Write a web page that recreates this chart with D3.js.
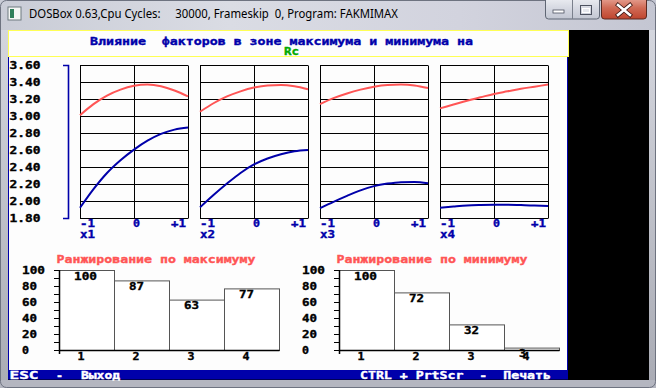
<!DOCTYPE html>
<html>
<head>
<meta charset="utf-8">
<script src="https://cdn.jsdelivr.net/npm/d3@7"></script>
<style>
  body { margin: 0; background: #fff; overflow: hidden; }
  svg { display: block; }
  text { white-space: pre; }
  .dos { font-family: "DejaVu Sans Mono", monospace; font-weight: bold; font-size: 10px; stroke-width: 0.35px; }
</style>
</head>
<body>
<svg id="chart" width="656" height="388"></svg>
<script>
// factor curves: response at x = -1 .. +1 for each factor
const factors = ['x1', 'x2', 'x3', 'x4'];
const xLevels = [-1, -0.75, -0.5, -0.25, 0, 0.25, 0.5, 0.75, 1];
const maxCurves = [
    [3.01, 3.14, 3.24, 3.31, 3.355, 3.37, 3.35, 3.30, 3.23],
    [3.05, 3.15, 3.23, 3.29, 3.335, 3.36, 3.365, 3.35, 3.315],
    [3.14, 3.21, 3.265, 3.31, 3.345, 3.365, 3.37, 3.36, 3.33],
    [3.09, 3.135, 3.18, 3.22, 3.26, 3.29, 3.32, 3.345, 3.37]
];
const minCurves = [
    [1.92, 2.14, 2.33, 2.48, 2.605, 2.71, 2.79, 2.84, 2.865],
    [1.925, 2.07, 2.205, 2.33, 2.43, 2.50, 2.55, 2.585, 2.60],
    [1.915, 1.99, 2.06, 2.125, 2.175, 2.205, 2.222, 2.225, 2.21],
    [1.92, 1.935, 1.948, 1.953, 1.955, 1.955, 1.952, 1.946, 1.94]
];
const yTicks = [1.8, 2.0, 2.2, 2.4, 2.6, 2.8, 3.0, 3.2, 3.4, 3.6];
const xTickLabels = ['-1', '0', '+1'];

// ranking bars
const rankCats = [1, 2, 3, 4];
const rankMax = [100, 87, 63, 77];
const rankMin = [100, 72, 32, 3];
const rankTicks = [0, 10, 20, 30, 40, 50, 60, 70, 80, 90, 100];
const rankLabels = [0, 20, 40, 60, 80, 100];

const titleText = 'Влияние  факторов в зоне максимума и минимума на';
const titleSub = 'Rc';
const rankMaxTitle = 'Ранжирование по максимуму';
const rankMinTitle = 'Ранжирование по минимуму';
const windowTitle = 'DOSBox 0.63,Cpu Cycles:     30000, Frameskip  0, Program: FAKMIMAX';

const DOS_BLUE = '#0000aa', DOS_RED = '#ff5555', DOS_GREEN = '#00aa00', DOS_YELLOW = '#ffff55';

const svg = d3.select('#chart');

// ---- window chrome ----
const defs = svg.append('defs');
const frameGrad = defs.append('linearGradient').attr('id', 'frame').attr('x1', 0).attr('x2', 1);
frameGrad.append('stop').attr('offset', 0).attr('stop-color', '#c9ccd6');
frameGrad.append('stop').attr('offset', 0.35).attr('stop-color', '#dadce4');
frameGrad.append('stop').attr('offset', 0.7).attr('stop-color', '#d2d3de');
frameGrad.append('stop').attr('offset', 1).attr('stop-color', '#c4c6d2');
const sideGrad = defs.append('linearGradient').attr('id', 'side').attr('x1', 0).attr('x2', 0).attr('y1', 0).attr('y2', 1);
sideGrad.append('stop').attr('offset', 0).attr('stop-color', '#d4d6de');
sideGrad.append('stop').attr('offset', 1).attr('stop-color', '#a9abb4');
const btnGrad = defs.append('linearGradient').attr('id', 'btn').attr('x1', 0).attr('x2', 0).attr('y1', 0).attr('y2', 1);
btnGrad.append('stop').attr('offset', 0).attr('stop-color', '#eef0f4');
btnGrad.append('stop').attr('offset', 0.5).attr('stop-color', '#d6d9e2');
btnGrad.append('stop').attr('offset', 1).attr('stop-color', '#c2c6d2');
const closeGrad = defs.append('linearGradient').attr('id', 'close').attr('x1', 0).attr('x2', 0).attr('y1', 0).attr('y2', 1);
closeGrad.append('stop').attr('offset', 0).attr('stop-color', '#e9a99b');
closeGrad.append('stop').attr('offset', 0.5).attr('stop-color', '#d06a55');
closeGrad.append('stop').attr('offset', 1).attr('stop-color', '#c0452e');

svg.append('rect').attr('width', 656).attr('height', 388).attr('fill', 'url(#frame)');
svg.append('rect').attr('x', 0).attr('y', 30).attr('width', 8).attr('height', 358).attr('fill', 'url(#side)');
svg.append('rect').attr('x', 649).attr('y', 30).attr('width', 7).attr('height', 358).attr('fill', 'url(#side)');
svg.append('rect').attr('x', 0).attr('y', 380).attr('width', 656).attr('height', 8).attr('fill', '#b4b6c0');
svg.append('rect').attr('x', 0.5).attr('y', 0.5).attr('width', 655).attr('height', 387).attr('rx', 6)
    .attr('fill', 'none').attr('stroke', '#6e7380');

// icon
svg.append('rect').attr('x', 8).attr('y', 7).attr('width', 13).attr('height', 13).attr('fill', '#f4f6f4').attr('stroke', '#6f7a80');
svg.append('rect').attr('x', 10).attr('y', 9).attr('width', 4).attr('height', 9).attr('fill', '#2f7f5a');

svg.append('text').attr('x', 29).attr('y', 18)
    .attr('font-family', '"Noto Sans", "Open Sans", sans-serif').attr('font-size', 12)
    .attr('textLength', 369).attr('lengthAdjust', 'spacingAndGlyphs')
    .attr('fill', '#000').text(windowTitle);

// caption buttons
svg.append('rect').attr('x', 545.5).attr('y', -3).attr('width', 54).attr('height', 22).attr('rx', 3)
    .attr('fill', 'url(#btn)').attr('stroke', '#5f6674');
svg.append('line').attr('x1', 572.5).attr('x2', 572.5).attr('y1', 0).attr('y2', 19).attr('stroke', '#7a808c');
svg.append('rect').attr('x', 553).attr('y', 10).attr('width', 11).attr('height', 3).attr('fill', '#fff').attr('stroke', '#4d5260').attr('stroke-width', 0.8);
svg.append('rect').attr('x', 580.5).attr('y', 5.5).attr('width', 11).attr('height', 9).attr('fill', 'none').attr('stroke', '#4d5260');
svg.append('rect').attr('x', 582.5).attr('y', 8.5).attr('width', 7).attr('height', 4).attr('fill', '#e6e8ee').attr('stroke', '#fff');
svg.append('rect').attr('x', 601.5).attr('y', -3).attr('width', 45).attr('height', 22).attr('rx', 3)
    .attr('fill', 'url(#close)').attr('stroke', '#5a2a22');
svg.append('path').attr('d', 'M618,5 L630,15 M630,5 L618,15')
    .attr('stroke', '#3a1410').attr('stroke-width', 4.2).attr('stroke-linecap', 'square');
svg.append('path').attr('d', 'M618,5 L630,15 M630,5 L618,15')
    .attr('stroke', '#fff').attr('stroke-width', 2.6).attr('stroke-linecap', 'square');

// ---- DOS screen ----
svg.append('rect').attr('x', 8).attr('y', 30).attr('width', 641).attr('height', 350).attr('fill', '#000');
svg.append('rect').attr('x', 8).attr('y', 30).attr('width', 560).attr('height', 340).attr('fill', '#fdfdfd');
svg.append('rect').attr('x', 8.5).attr('y', 30.5).attr('width', 560).attr('height', 26)
    .attr('fill', 'none').attr('stroke', DOS_YELLOW);
svg.append('line').attr('x1', 8.5).attr('x2', 8.5).attr('y1', 57).attr('y2', 370).attr('stroke', DOS_BLUE);
svg.append('line').attr('x1', 567.5).attr('x2', 567.5).attr('y1', 57).attr('y2', 370).attr('stroke', DOS_BLUE);
svg.append('rect').attr('x', 8).attr('y', 370).attr('width', 560).attr('height', 9.5).attr('fill', DOS_BLUE);

function dosText(sel, x, yc, str, color, anchor) {
    const w = str.length * 8 - 1;
    const x0 = anchor === 'middle' ? x - w / 2 : anchor === 'end' ? x - w : x;
    return sel.append('text')
        .attr('class', 'dos')
        .attr('x', x0)
        .attr('y', yc + 3.6)
        .attr('textLength', w)
        .attr('lengthAdjust', 'spacingAndGlyphs')
        .attr('fill', color)
        .attr('stroke', color)
        .text(str);
}

dosText(svg, 90, 41, titleText, DOS_BLUE);
dosText(svg, 284, 51, titleSub, DOS_GREEN);

// ---- factor panels ----
const y = d3.scaleLinear().domain([1.8, 3.6]).range([218, 65]);

yTicks.forEach(t => dosText(svg, 9.5, y(t), t.toFixed(2), '#000'));
svg.append('path')
    .attr('d', `M63,${y(3.6) + 0.5}H68.5V${y(1.8) + 0.5}H63`)
    .attr('fill', 'none').attr('stroke', DOS_BLUE).attr('stroke-width', 1.6);

factors.forEach((f, i) => {
    const left = 80 + i * 120;
    const x = d3.scaleLinear().domain([-1, 1]).range([left, left + 108]);
    const g = svg.append('g');

    g.selectAll('.grid')
        .data(yTicks)
        .enter().append('line')
        .attr('x1', x(-1)).attr('x2', x(1))
        .attr('y1', d => Math.round(y(d)) + 0.5)
        .attr('y2', d => Math.round(y(d)) + 0.5)
        .attr('stroke', '#000');

    g.selectAll('.vgrid')
        .data([-1, 0, 1])
        .enter().append('line')
        .attr('x1', d => Math.round(x(d)) + 0.5)
        .attr('x2', d => Math.round(x(d)) + 0.5)
        .attr('y1', y(3.6) + 0.5).attr('y2', y(1.8) + 0.5)
        .attr('stroke', '#000');

    const line = d3.line()
        .x((d, k) => x(xLevels[k]))
        .y(d => y(d))
        .curve(d3.curveMonotoneX);

    g.append('path').datum(maxCurves[i])
        .attr('d', line).attr('fill', 'none')
        .attr('stroke', DOS_RED).attr('stroke-width', 2);
    g.append('path').datum(minCurves[i])
        .attr('d', line).attr('fill', 'none')
        .attr('stroke', DOS_BLUE).attr('stroke-width', 2);

    dosText(g, x(-1), 223.5, xTickLabels[0], DOS_BLUE);
    dosText(g, x(0) - 1, 223.5, xTickLabels[1], DOS_BLUE);
    dosText(g, x(1) - 2, 223.5, xTickLabels[2], DOS_BLUE, 'end');
    dosText(g, x(-1), 234, f, DOS_BLUE);
});

// ---- ranking bar charts ----
function rankChart(axisX, values, title, titleX) {
    const g = svg.append('g');
    const yr = d3.scaleLinear().domain([0, 100]).range([350, 270]);
    const xr = d3.scaleBand().domain(rankCats).range([axisX, axisX + 220]).padding(0);

    dosText(g, titleX, 259.5, title, DOS_RED, 'middle');

    g.append('g')
        .attr('transform', `translate(${axisX},0)`)
        .call(d3.axisLeft(yr).tickValues(rankTicks).tickSize(5).tickFormat(''))
        .call(a => a.select('.domain').remove())
        .call(a => a.selectAll('line').attr('stroke', '#000'));

    rankLabels.forEach(v => dosText(g, axisX - 37, yr(v), String(v), '#000'));

    g.selectAll('.bar')
        .data(values)
        .enter().append('rect')
        .attr('x', (d, k) => xr(rankCats[k]) + 0.5)
        .attr('y', d => yr(d) + 0.5)
        .attr('width', xr.bandwidth())
        .attr('height', d => yr(0) - yr(d))
        .attr('fill', '#fff')
        .attr('stroke', '#555');

    g.append('path')
        .attr('d', `M${axisX + 0.5},${yr(100)}V354M${axisX},350.5H${axisX + 220.5}`)
        .attr('fill', 'none').attr('stroke', '#000').attr('stroke-width', 1.5);

    rankCats.forEach((c, k) => dosText(g, xr(c) + 22, 356.5, String(c), '#000', 'middle'));
    values.forEach((v, k) => dosText(g, xr(rankCats[k]) + 15, yr(v) + 6, String(v), '#000'));
}

rankChart(59, rankMax, rankMaxTitle, 156);
rankChart(339, rankMin, rankMinTitle, 432);

// ---- status line ----
dosText(svg, 9.5, 375, 'ESC', '#fff').attr('textLength', 29);
dosText(svg, 56, 375, '-', '#fff');
dosText(svg, 81, 375, 'Выход', '#fff');
dosText(svg, 360, 375, 'CTRL + PrtScr  -  Печать', '#fff');
</script>
</body>
</html>
